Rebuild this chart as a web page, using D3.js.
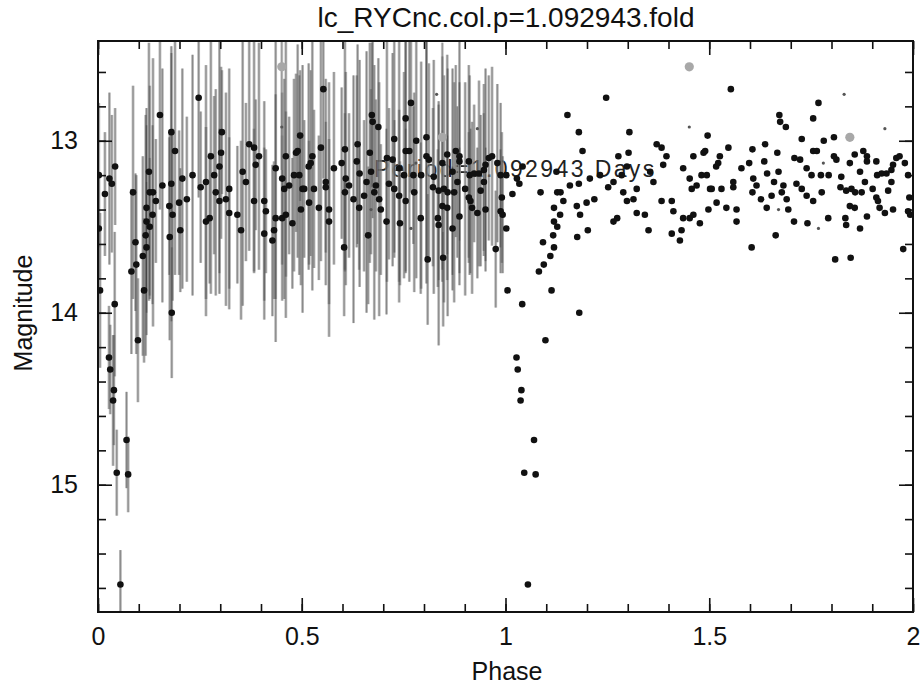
<!DOCTYPE html>
<html>
<head>
<meta charset="utf-8">
<script src="https://cdn.jsdelivr.net/npm/d3@7"></script>
<style>
  body { margin: 0; background: #fff; }
  svg text { font-family: "Liberation Sans", Arial, sans-serif; fill: #111; }
</style>
</head>
<body>
<div id="container"></div>
<script>
// folded light curve, phase 0..1 (drawn again at phase+1 without error bars)
let phase = [
  0.002, 0.002, 0.005, 0.017, 0.028, 0.034, 0.042, 0.041, 0.027, 0.030,
  0.039, 0.037, 0.070, 0.046, 0.074, 0.055, 0.082, 0.086, 0.092, 0.094,
  0.098, 0.110, 0.113, 0.117, 0.119, 0.119, 0.119, 0.125, 0.127, 0.127,
  0.134, 0.135, 0.142, 0.152, 0.158, 0.175, 0.176, 0.180, 0.180, 0.181,
  0.183, 0.189, 0.199, 0.202, 0.207, 0.218, 0.232, 0.247, 0.252, 0.265,
  0.265, 0.274, 0.277, 0.285, 0.289, 0.298, 0.298, 0.302, 0.304, 0.314,
  0.322, 0.322, 0.342, 0.351, 0.355, 0.363, 0.371, 0.383, 0.387, 0.395,
  0.383, 0.408, 0.412, 0.408, 0.428, 0.432, 0.436, 0.452, 0.461, 0.477,
  0.436, 0.452, 0.457, 0.469, 0.481, 0.461, 0.486, 0.490, 0.496, 0.494,
  0.498, 0.502, 0.506, 0.517, 0.518, 0.522, 0.526, 0.530, 0.542, 0.547,
  0.553, 0.559, 0.559, 0.567, 0.567, 0.579, 0.598, 0.604, 0.606, 0.606,
  0.608, 0.616, 0.627, 0.635, 0.637, 0.641, 0.642, 0.653, 0.659, 0.663,
  0.667, 0.670, 0.672, 0.674, 0.678, 0.682, 0.688, 0.690, 0.694, 0.708,
  0.709, 0.714, 0.723, 0.727, 0.727, 0.739, 0.739, 0.741, 0.751, 0.755,
  0.755, 0.755, 0.764, 0.768, 0.774, 0.776, 0.781, 0.792, 0.793, 0.806,
  0.806, 0.809, 0.812, 0.822, 0.824, 0.834, 0.836, 0.836, 0.845, 0.845,
  0.847, 0.849, 0.857, 0.857, 0.858, 0.870, 0.870, 0.874, 0.878, 0.882,
  0.887, 0.887, 0.887, 0.901, 0.910, 0.910, 0.912, 0.914, 0.918, 0.923,
  0.931, 0.935, 0.939, 0.947, 0.947, 0.951, 0.951, 0.959, 0.967, 0.976,
  0.980, 0.988, 0.991, 0.988, 0.993
];
let mag = [
  13.20, 13.51, 13.87, 13.31, 13.22, 13.25, 13.15, 13.95, 14.26, 14.33,
  14.45, 14.51, 14.74, 14.93, 14.94, 15.58, 13.76, 13.30, 13.59, 13.72,
  14.16, 13.67, 13.87, 13.55, 13.62, 13.47, 13.39, 13.18, 13.50, 13.30,
  13.43, 13.30, 13.35, 12.85, 13.26, 13.38, 13.56, 12.95, 13.25, 14.00,
  13.43, 13.06, 13.36, 13.52, 13.22, 13.34, 13.20, 12.75, 13.27, 13.47,
  13.24, 13.45, 13.09, 13.20, 13.30, 13.35, 13.15, 13.07, 12.95, 13.34,
  13.42, 13.28, 13.43, 13.52, 13.18, 13.24, 13.02, 13.04, 13.14, 13.09,
  13.35, 13.35, 13.41, 13.54, 13.58, 13.52, 13.45, 13.45, 13.43, 13.48,
  13.16, 13.22, 13.28, 13.26, 13.20, 13.09, 13.07, 13.06, 12.97, 13.20,
  13.40, 13.28, 13.28, 13.15, 13.36, 13.13, 13.09, 13.28, 13.39, 13.04,
  12.70, 13.24, 13.27, 13.47, 13.40, 13.16, 13.13, 13.62, 13.05, 13.30,
  13.22, 13.26, 13.34, 13.12, 13.02, 13.39, 13.19, 13.32, 13.24, 13.55,
  13.07, 13.18, 12.85, 12.89, 13.30, 13.26, 12.92, 13.34, 13.40, 13.47,
  13.10, 13.25, 13.11, 12.99, 13.28, 13.32, 13.16, 13.48, 13.20, 12.87,
  13.06, 13.35, 13.06, 12.78, 13.20, 13.30, 13.00, 13.45, 13.20, 12.98,
  13.09, 13.69, 13.11, 13.27, 13.21, 13.45, 13.29, 13.49, 13.13, 13.38,
  13.68, 13.28, 13.08, 13.39, 13.30, 13.18, 13.51, 13.30, 13.06, 13.24,
  13.09, 13.12, 13.44, 13.28, 13.12, 13.33, 13.20, 13.35, 13.39, 13.19,
  13.42, 13.19, 13.29, 13.17, 13.24, 13.14, 13.40, 13.10, 13.09, 13.63,
  13.13, 13.20, 13.33, 13.41, 13.43
];
let magErr = [
  0.42, 0.30, 0.45, 0.36, 0.50, 0.40, 0.34, 0.42, 0.30, 0.26,
  0.32, 0.38, 0.28, 0.25, 0.22, 0.20, 0.48, 0.62, 0.40, 0.52,
  0.36, 0.58, 0.42, 0.70, 0.38, 0.66, 0.48, 0.75, 0.40, 0.62,
  0.52, 0.78, 0.36, 0.55, 0.68, 0.40, 0.60, 0.46, 0.80, 0.38,
  0.50, 0.72, 0.42, 0.36, 0.64, 0.48, 0.70, 0.58, 0.44, 0.55,
  0.68, 0.38, 0.80, 0.46, 0.60, 0.42, 0.74, 0.50, 0.36, 0.62,
  0.44, 0.70, 0.40, 0.52, 0.78, 0.46, 0.62, 0.72, 0.38, 0.66,
  0.42, 0.58, 0.36, 0.50, 0.44, 0.40, 0.72, 0.48, 0.60, 0.38,
  0.76, 0.50, 0.64, 0.40, 0.56, 0.70, 0.46, 0.62, 0.38, 0.58,
  0.44, 0.72, 0.40, 0.60, 0.36, 0.54, 0.78, 0.46, 0.42, 0.66,
  0.52, 0.60, 0.38, 0.48, 0.74, 0.56, 0.44, 0.40, 0.70, 0.46,
  0.62, 0.42, 0.72, 0.50, 0.58, 0.36, 0.66, 0.44, 0.76, 0.40,
  0.64, 0.48, 0.42, 0.56, 0.74, 0.50, 0.40, 0.68, 0.38, 0.54,
  0.72, 0.44, 0.62, 0.66, 0.40, 0.50, 0.78, 0.36, 0.60, 0.48,
  0.70, 0.42, 0.76, 0.52, 0.40, 0.58, 0.80, 0.44, 0.66, 0.72,
  0.74, 0.38, 0.56, 0.46, 0.68, 0.40, 0.52, 0.70, 0.62, 0.44,
  0.40, 0.66, 0.58, 0.42, 0.72, 0.60, 0.36, 0.64, 0.50, 0.44,
  0.68, 0.46, 0.40, 0.62, 0.56, 0.38, 0.58, 0.42, 0.50, 0.40,
  0.38, 0.54, 0.44, 0.50, 0.40, 0.56, 0.36, 0.48, 0.52, 0.34,
  0.46, 0.42, 0.38, 0.36, 0.34
];

// flagged points (grey) and faint points (small)
let grayPhase = [0.451, 0.845];
let grayMag = [12.57, 12.98];
let grayErr = [0.60, 0.55];
let smallPhase = [0.451, 0.670, 0.768, 0.780, 0.831, 0.931];
let smallMag = [12.92, 13.40, 13.51, 13.13, 12.73, 12.93];

let xMajor = [0, 0.5, 1, 1.5, 2];
let yMajor = [13, 14, 15];
let xMinor = d3.range(0, 2.001, 0.1);
let yMinor = d3.range(12.6, 15.71, 0.2);

let titleText = "lc_RYCnc.col.p=1.092943.fold";
let periodText = "Period=1.092943 Days";

let W = 922, H = 685;
let pLeft = 98, pRight = 913, pTop = 41, pBottom = 612;

let svg = d3.select("#container")
  .append("svg")
    .attr("width", W)
    .attr("height", H)
  ;
svg.append("rect").attr("width", W).attr("height", H).attr("fill", "#fff");

let x = d3.scaleLinear().domain([0, 2]).range([pLeft, pRight]);
let y = d3.scaleLinear().domain([12.42, 15.74]).range([pTop, pBottom]);

svg.append("clipPath").attr("id", "plotclip")
  .append("rect")
    .attr("x", pLeft).attr("y", pTop)
    .attr("width", pRight - pLeft).attr("height", pBottom - pTop);

let plot = svg.append("g").attr("clip-path", "url(#plotclip)");

// label sits under the points
plot.append("text")
    .attr("x", 374)
    .attr("y", 177)
    .style("font-size", "23px")
    .style("letter-spacing", "2.4px")
    .style("fill", "#222")
    .text(periodText);

let pts = phase.map(function(p, i){ return {p: p, m: mag[i], e: magErr[i]}; });
let grayPts = grayPhase.map(function(p, i){ return {p: p, m: grayMag[i], e: grayErr[i]}; });
let smallPts = smallPhase.map(function(p, i){ return {p: p, m: smallMag[i]}; });

function errBars(data, color){
  plot.append("g").selectAll("line").data(data).enter()
    .append("line")
      .attr("x1", function(d){ return x(d.p); })
      .attr("x2", function(d){ return x(d.p); })
      .attr("y1", function(d){ return y(d.m - d.e); })
      .attr("y2", function(d){ return y(d.m + d.e); })
      .attr("stroke", color)
      .attr("stroke-width", 2.8)
      .attr("stroke-opacity", 0.6)
  ;
  plot.append("g").selectAll("line").data(data).enter()
    .append("line")
      .attr("x1", function(d){ return x(d.p); })
      .attr("x2", function(d){ return x(d.p); })
      .attr("y1", function(d){ return y(d.m - d.e); })
      .attr("y2", function(d){ return y(d.m + d.e); })
      .attr("stroke", "#333")
      .attr("stroke-width", 0.8)
      .attr("stroke-opacity", 0.45)
  ;
}
errBars(pts, "#888");
errBars(grayPts, "#999");

function dots(data, shift, r, color){
  plot.append("g").selectAll("circle").data(data).enter()
    .append("circle")
      .attr("cx", function(d){ return x(d.p + shift); })
      .attr("cy", function(d){ return y(d.m); })
      .attr("r", r)
      .attr("fill", color)
  ;
}
[0, 1].forEach(function(s){
  dots(pts, s, 3.3, "#111");
  dots(grayPts, s, 4.6, "#a8a8a8");
  dots(smallPts, s, 1.6, "#555");
});

// ticks, inward on all four sides
function tickAxes(vals, len){
  svg.append("g").attr("transform", "translate(0," + pBottom + ")")
    .call(d3.axisBottom(x).tickValues(vals).tickSize(-len).tickFormat(""));
  svg.append("g").attr("transform", "translate(0," + pTop + ")")
    .call(d3.axisTop(x).tickValues(vals).tickSize(-len).tickFormat(""));
}
tickAxes(xMinor, 8);
tickAxes(xMajor, 14);

function tickAxesY(vals, len){
  svg.append("g").attr("transform", "translate(" + pLeft + ",0)")
    .call(d3.axisLeft(y).tickValues(vals).tickSize(-len).tickFormat(""));
  svg.append("g").attr("transform", "translate(" + pRight + ",0)")
    .call(d3.axisRight(y).tickValues(vals).tickSize(-len).tickFormat(""));
}
tickAxesY(yMinor, 8);
tickAxesY(yMajor, 14);

svg.selectAll(".domain").remove();
svg.selectAll(".tick line").attr("stroke", "#111").attr("stroke-width", 1.6);

// labelled axes
let xAxis = svg.append("g").attr("transform", "translate(0," + pBottom + ")")
  .call(d3.axisBottom(x).tickValues(xMajor).tickSize(0).tickPadding(15).tickFormat(d3.format("")));
let yAxis = svg.append("g").attr("transform", "translate(" + pLeft + ",0)")
  .call(d3.axisLeft(y).tickValues(yMajor).tickSize(0).tickPadding(20).tickFormat(d3.format("")));
xAxis.select(".domain").remove();
yAxis.select(".domain").remove();
svg.selectAll(".tick text")
    .style("font-family", "Liberation Sans, Arial, sans-serif")
    .style("font-size", "25px")
    .attr("fill", "#111");

svg.append("rect")
    .attr("x", pLeft).attr("y", pTop)
    .attr("width", pRight - pLeft).attr("height", pBottom - pTop)
    .attr("fill", "none")
    .attr("stroke", "#111")
    .attr("stroke-width", 2);

svg.append("text")
    .attr("x", 506).attr("y", 27)
    .attr("text-anchor", "middle")
    .style("font-size", "28px")
    .text(titleText);

svg.append("text")
    .attr("x", 507).attr("y", 680)
    .attr("text-anchor", "middle")
    .style("font-size", "25px")
    .text("Phase");

svg.append("text")
    .attr("transform", "translate(32,313) rotate(-90)")
    .attr("text-anchor", "middle")
    .style("font-size", "25px")
    .text("Magnitude");
</script>
</body>
</html>
